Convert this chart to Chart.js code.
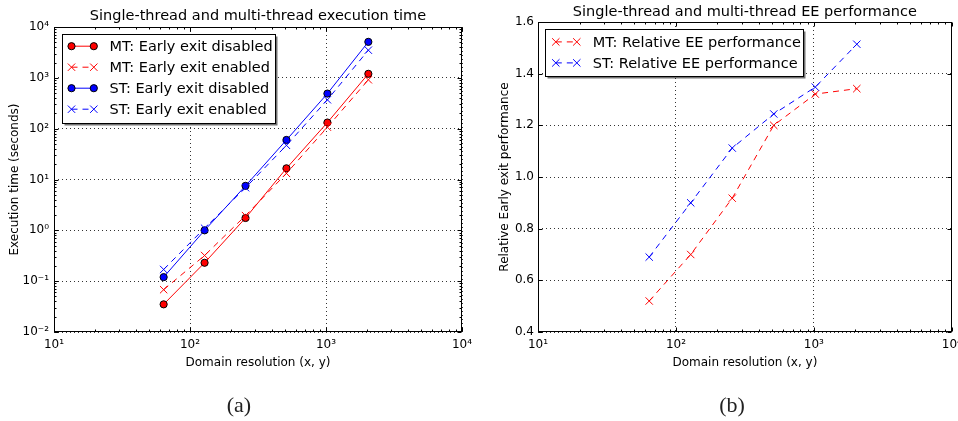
<!DOCTYPE html>
<html><head><meta charset="utf-8">
<script src="https://cdn.jsdelivr.net/npm/chart.js@4"></script>
<style>
html,body{margin:0;padding:0;background:#fff;}
#wrap{position:relative;width:958px;height:421px;overflow:hidden;background:#fff;}
.cv{position:absolute;top:0;height:421px;}
.cap{position:absolute;top:390px;width:60px;text-align:center;font-family:'Liberation Serif','DejaVu Serif',serif;font-size:22px;line-height:30px;color:#222;}
</style></head><body>
<div id="wrap">
<div class="cv" style="left:0;width:480px"><canvas id="c1"></canvas></div>
<div class="cv" style="left:480px;width:478px"><canvas id="c2"></canvas></div>
<div class="cap" style="left:209px">(a)</div>
<div class="cap" style="left:702px">(b)</div>
</div>
<script>
// ---- data ----
const resolution = [64, 128, 256, 512, 1024, 2048];
const mtDisabled = [0.035, 0.23, 1.75, 16.6, 132, 1200];
const mtEnabled  = [0.068, 0.32, 1.95, 13.2, 107, 915];
const stDisabled = [0.12, 1.0, 7.5, 60, 490, 5100];
const stEnabled  = [0.17, 1.1, 6.9, 47, 370, 3500];
const mtRelative = [0.52, 0.70, 0.918, 1.20, 1.321, 1.342];
const stRelative = [0.69, 0.90, 1.112, 1.244, 1.348, 1.514];
const leftTitle = 'Single-thread and multi-thread execution time';
const rightTitle = 'Single-thread and multi-thread EE performance';
const xLabel = 'Domain resolution (x, y)';
const leftYLabel = 'Execution time (seconds)';
const rightYLabel = 'Relative Early exit performance';
const labels = {
  mtDis: 'MT: Early exit disabled', mtEn: 'MT: Early exit enabled',
  stDis: 'ST: Early exit disabled', stEn: 'ST: Early exit enabled',
  mtRel: 'MT: Relative EE performance', stRel: 'ST: Relative EE performance'
};

const FONT = "'DejaVu Sans', sans-serif";
const RED = '#ff0000', BLUE = '#0000ff';
const SUP = {'0':'\u2070','1':'\u00b9','2':'\u00b2','3':'\u00b3','4':'\u2074','5':'\u2075','6':'\u2076','7':'\u2077','8':'\u2078','9':'\u2079','-':'\u207b'};
function powLabel(v){ const e = Math.round(Math.log10(v)); return '10' + String(e).split('').map(c => SUP[c]).join(''); }
function decadeTicks(scale){
  const lo = Math.round(Math.log10(scale.min)), hi = Math.round(Math.log10(scale.max));
  const t = []; for (let e = lo; e <= hi; e++) t.push({value: Math.pow(10, e)});
  scale.ticks = t;
}
function pts(xs, ys){ return xs.map((x, i) => ({x: x, y: ys[i]})); }

function solidSeries(label, color, ys, order){
  return {label, data: pts(resolution, ys), borderColor: color, borderWidth: 1, tension: 0,
    pointStyle: 'circle', pointRadius: 3.6, pointHoverRadius: 3.6, pointBackgroundColor: color,
    pointBorderColor: '#000', pointBorderWidth: 1, order, fill: false};
}
function dashedSeries(label, color, ys, order){
  return {label, data: pts(resolution, ys), borderColor: color, borderWidth: 1, borderDash: [6, 5], tension: 0,
    pointStyle: 'crossRot', pointRadius: 5.2, pointHoverRadius: 5.2, pointBackgroundColor: color,
    pointBorderColor: color, pointBorderWidth: 1, order, fill: false};
}

function drawMarker(ctx, ds, x, y){
  ctx.save();
  ctx.setLineDash([]);
  if (ds.pointStyle === 'circle') {
    ctx.beginPath(); ctx.arc(x, y, ds.pointRadius, 0, Math.PI * 2);
    ctx.fillStyle = ds.pointBackgroundColor; ctx.fill();
    ctx.lineWidth = ds.pointBorderWidth; ctx.strokeStyle = ds.pointBorderColor; ctx.stroke();
  } else {
    const o = ds.pointRadius * Math.SQRT1_2;
    ctx.beginPath(); ctx.moveTo(x - o, y - o); ctx.lineTo(x + o, y + o);
    ctx.moveTo(x - o, y + o); ctx.lineTo(x + o, y - o);
    ctx.lineWidth = ds.pointBorderWidth; ctx.strokeStyle = ds.pointBorderColor; ctx.stroke();
  }
  ctx.restore();
}

// frame + inward ticks (matplotlib style)
const framePlugin = {
  id: 'frame',
  afterDatasetsDraw(chart){
    const {ctx, chartArea: a, scales} = chart;
    ctx.save();
    ctx.strokeStyle = '#000'; ctx.lineWidth = 1; ctx.setLineDash([]);
    const L = Math.round(a.left) + 0.5, R = Math.round(a.right) - 0.5, T = Math.round(a.top) + 0.5, B = Math.round(a.bottom) - 0.5;
    function xt(v, len){ const p = Math.round(scales.x.getPixelForValue(v)) + 0.5; ctx.moveTo(p, B); ctx.lineTo(p, B - len); ctx.moveTo(p, T); ctx.lineTo(p, T + len); }
    function yt(v, len){ const p = Math.round(scales.y.getPixelForValue(v)) + 0.5; ctx.moveTo(L, p); ctx.lineTo(L + len, p); ctx.moveTo(R, p); ctx.lineTo(R - len, p); }
    ctx.beginPath();
    [['x', xt], ['y', yt]].forEach(([id, f]) => {
      const s = scales[id];
      if (s.type === 'logarithmic') {
        const lo = Math.round(Math.log10(s.min)), hi = Math.round(Math.log10(s.max));
        for (let e = lo; e <= hi; e++) {
          f(Math.pow(10, e), 4);
          if (e < hi) for (let m = 2; m <= 9; m++) f(m * Math.pow(10, e), 2);
        }
      } else {
        s.ticks.forEach(t => f(t.value, 4));
      }
    });
    ctx.stroke();
    ctx.strokeRect(L, T, R - L, B - T);
    ctx.restore();
  }
};

// framed legend with shadow inside the plot area
const boxLegend = {
  id: 'boxLegend',
  afterDraw(chart, args, o){
    const {ctx, chartArea: a} = chart;
    const ds = chart.data.datasets;
    ctx.save();
    ctx.font = o.fontSize + 'px ' + FONT;
    let maxW = 0; ds.forEach(d => { maxW = Math.max(maxW, ctx.measureText(d.label).width); });
    const bx = Math.round(a.left + o.dx) + 0.5, by = Math.round(a.top + o.dy) + 0.5;
    const bw = Math.round(o.textX + maxW + o.padR), bh = Math.round(ds.length * o.rowH + o.padB);
    ctx.fillStyle = 'rgba(0,0,0,0.55)';
    ctx.fillRect(bx + 2, by + 2, bw, bh);
    ctx.fillStyle = '#fff'; ctx.fillRect(bx, by, bw, bh);
    ctx.strokeStyle = '#000'; ctx.lineWidth = 1; ctx.strokeRect(bx, by, bw, bh);
    ds.forEach((d, i) => {
      const y = by + o.row0 + i * o.rowH;
      ctx.save();
      ctx.strokeStyle = d.borderColor; ctx.lineWidth = d.borderWidth;
      ctx.setLineDash(d.borderDash || []);
      ctx.beginPath(); ctx.moveTo(bx + o.m1, y); ctx.lineTo(bx + o.m2, y); ctx.stroke();
      ctx.restore();
      drawMarker(ctx, d, bx + o.m1, y);
      drawMarker(ctx, d, bx + o.m2, y);
      ctx.fillStyle = '#000'; ctx.textBaseline = 'middle'; ctx.textAlign = 'left';
      ctx.fillText(d.label, bx + o.textX, y + 1);
    });
    ctx.restore();
  }
};

function fixW(w){ return s => { s.width = w; s.paddingTop = 0; s.paddingBottom = 0; }; }
function fixH(h){ return s => { s.height = h; s.paddingLeft = 0; s.paddingRight = 0; }; }

function makeOptions(cfg){
  return {
    responsive: true, maintainAspectRatio: false, animation: false,
    layout: {padding: cfg.pad},
    plugins: {
      legend: {display: false}, tooltip: {enabled: false},
      title: {display: true, text: cfg.title, fullSize: false, color: '#000',
        font: {family: FONT, size: 14.5, weight: 'normal', lineHeight: 1.2}, padding: cfg.titlePad},
      boxLegend: cfg.legend
    },
    scales: {
      x: {type: 'logarithmic', position: 'bottom', min: 10, max: 10000,
        afterBuildTicks: decadeTicks, afterFit: fixH(38),
        grid: {display: true, drawTicks: false, color: 'rgba(0,0,0,0.8)', lineWidth: 1},
        border: {display: false, dash: [1, 3]},
        ticks: {callback: v => powLabel(v), autoSkip: false, maxRotation: 0, padding: 6, color: '#000', font: {family: FONT, size: 12}},
        title: {display: true, text: xLabel, color: '#000', padding: 0, font: {family: FONT, size: 12}}},
      y: Object.assign({position: 'left', afterFit: fixW(cfg.yWidth),
        grid: {display: true, drawTicks: false, color: 'rgba(0,0,0,0.8)', lineWidth: 1},
        border: {display: false, dash: [1, 3]},
        title: {display: true, text: cfg.yLabel, color: '#000', padding: 0, font: {family: FONT, size: 12}}}, cfg.y)
    }
  };
}

new Chart(document.getElementById('c1'), {
  type: 'line',
  data: {datasets: [
    solidSeries(labels.mtDis, RED, mtDisabled, 4),
    dashedSeries(labels.mtEn, RED, mtEnabled, 3),
    solidSeries(labels.stDis, BLUE, stDisabled, 2),
    dashedSeries(labels.stEn, BLUE, stEnabled, 1)
  ]},
  options: makeOptions({
    title: leftTitle, yLabel: leftYLabel, yWidth: 46,
    pad: {left: 8, right: 18, top: 8, bottom: 51}, titlePad: {top: 0, bottom: 1.6},
    legend: {dx: 7.5, dy: 7, fontSize: 14.5, rowH: 21, row0: 11.7, padB: 5, m1: 9, m2: 31.3, textX: 47, padR: 3},
    y: {type: 'logarithmic', min: 0.01, max: 10000, afterBuildTicks: decadeTicks,
      ticks: {callback: v => powLabel(v), autoSkip: false, padding: 5, color: '#000', font: {family: FONT, size: 12}}}
  }),
  plugins: [framePlugin, boxLegend]
});

new Chart(document.getElementById('c2'), {
  type: 'line',
  data: {datasets: [
    dashedSeries(labels.mtRel, RED, mtRelative, 2),
    dashedSeries(labels.stRel, BLUE, stRelative, 1)
  ]},
  options: makeOptions({
    title: rightTitle, yLabel: rightYLabel, yWidth: 40,
    pad: {left: 18, right: 6, top: 4, bottom: 51}, titlePad: {top: 0, bottom: 0.6},
    legend: {dx: 7.4, dy: 7, fontSize: 14.5, rowH: 21, row0: 12.4, padB: 4.7, m1: 10.3, m2: 31.3, textX: 47.3, padR: 3},
    y: {type: 'linear', min: 0.4, max: 1.6,
      ticks: {stepSize: 0.2, callback: v => v.toFixed(1), autoSkip: false, padding: 4, color: '#000', font: {family: FONT, size: 12}}}
  }),
  plugins: [framePlugin, boxLegend]
});
</script>
</body></html>
